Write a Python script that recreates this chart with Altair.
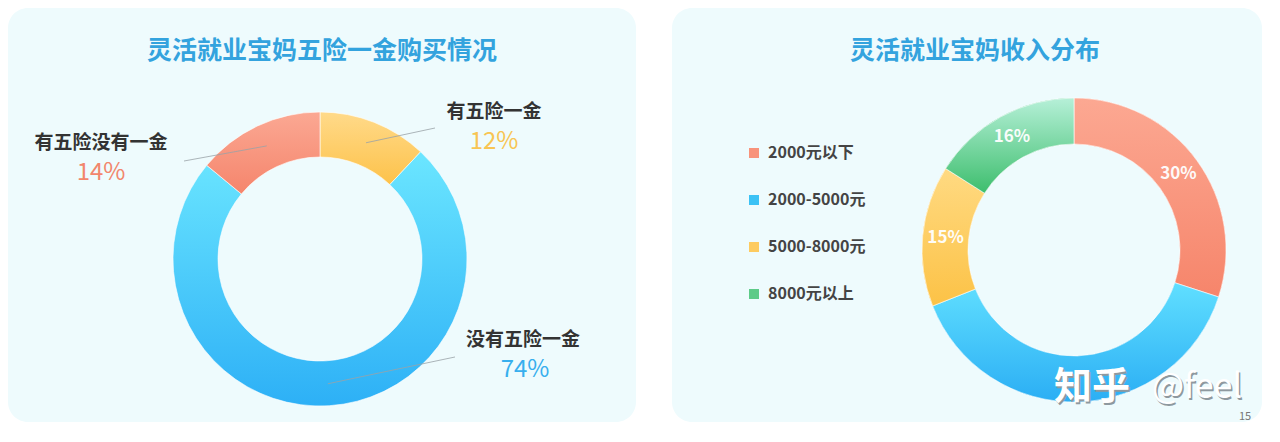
import math
import altair as alt
import pandas as pd

# ---------------- data ----------------
title_left = "灵活就业宝妈五险一金购买情况"
cats_left = ["有五险一金", "没有五险一金", "有五险没有一金"]
vals_left = [12, 74, 14]

title_right = "灵活就业宝妈收入分布"
cats_right = ["2000元以下", "2000-5000元", "5000-8000元", "8000元以上"]
vals_right = [30, 39, 15, 16]
# the 2000-5000元 label is hidden under the watermark in the reference
labelled_right = ["2000元以下", "5000-8000元", "8000元以上"]

watermark_parts = ["知乎", "@feel"]
page_number = ["15"]

# ---------------- styles / layout ----------------
FONT = "Noto Sans CJK SC"
PANEL_BG = "#EEFBFD"
TITLE_COLOR = "#33A3DE"

LW, LH = 628, 414
RW, RH = 590, 414

theta_scale = alt.Scale(domain=[0, 100], range=[0, 2 * math.pi])


def grad(c1, c2):
    return alt.Gradient(
        gradient="linear",
        stops=[alt.GradientStop(color=c1, offset=0), alt.GradientStop(color=c2, offset=1)],
        x1=0, x2=0, y1=0, y2=1,
    )


def base_chart(cats, vals):
    df = pd.DataFrame({"cat": cats, "value": vals, "order": list(range(len(cats)))})
    return (
        alt.Chart(df)
        .transform_window(cum="sum(value)", sort=[alt.SortField("order")], frame=[None, 0])
        .transform_calculate(
            start="datum.cum - datum.value",
            mid="datum.cum - datum.value / 2",
            pct="datum.value + '%'",
        )
    )


def title_layer(text, x, y):
    return (
        alt.Chart(pd.DataFrame({"t": [text]}))
        .mark_text(font=FONT, fontSize=25, fontWeight="bold", color=TITLE_COLOR, align="center", baseline="middle")
        .encode(text="t:N", x=alt.value(x), y=alt.value(y))
    )


# ---------------- left panel ----------------
LCX, LCY, LRO, LRI = 312, 251, 147, 102
bl = base_chart(cats_left, vals_left)

left_grads = {
    "有五险一金": grad("#FFDA8A", "#FDC24A"),
    "没有五险一金": grad("#6BE6FF", "#2DB0F6"),
    "有五险没有一金": grad("#FBA893", "#F5856C"),
}
left_layers = [title_layer(title_left, 314, 43)]
for c in cats_left:
    left_layers.append(
        bl.transform_filter(alt.datum.cat == c)
        .mark_arc(outerRadius=LRO, innerRadius=LRI, color=left_grads[c], stroke="#ffffff", strokeWidth=1, strokeOpacity=0.6)
        .encode(
            theta=alt.Theta("start:Q", scale=theta_scale, stack=None),
            theta2="cum:Q",
            x=alt.value(LCX),
            y=alt.value(LCY),
        )
    )

# leader lines and labels (annotation layout)
left_annot = {
    "有五险一金": dict(end=(427, 120), name=(486, 104), pct=(486, 134), color="#F8C553"),
    "有五险没有一金": dict(end=(176, 153), name=(93, 135), pct=(93, 165), color="#F2866C"),
    "没有五险一金": dict(end=(447, 349), name=(515, 332), pct=(517, 362), color="#38AFEE"),
}
LEAD_R = 125
for c in cats_left:
    a = left_annot[c]
    sub = bl.transform_filter(alt.datum.cat == c).transform_calculate(
        sx=f"{LCX} + {LEAD_R} * sin(2 * PI * datum.mid / 100)",
        sy=f"{LCY} - {LEAD_R} * cos(2 * PI * datum.mid / 100)",
    )
    left_layers.append(
        sub.mark_rule(color="#9AA3A8", strokeWidth=1, opacity=0.8).encode(
            x=alt.X("sx:Q", scale=None),
            y=alt.Y("sy:Q", scale=None),
            x2=alt.value(a["end"][0]),
            y2=alt.value(a["end"][1]),
        )
    )
    left_layers.append(
        sub.mark_text(font=FONT, fontSize=19, fontWeight="bold", color="#333333", align="center", baseline="middle")
        .encode(text="cat:N", x=alt.value(a["name"][0]), y=alt.value(a["name"][1]))
    )
    left_layers.append(
        sub.mark_text(font=FONT, fontSize=24, fontWeight="normal", color=a["color"], align="center", baseline="middle")
        .encode(text="pct:N", x=alt.value(a["pct"][0]), y=alt.value(a["pct"][1]))
    )

left = alt.layer(*left_layers).properties(width=LW, height=LH)

# ---------------- right panel ----------------
RCX, RCY, RRO, RRI = 402, 242, 152, 106
br = base_chart(cats_right, vals_right)

legend_colors = ["#F8937B", "#3BC2F5", "#FDCB60", "#5DCB88"]
right_grads = {
    "2000元以下": grad("#FCA892", "#F6856B"),
    "2000-5000元": grad("#60DFFF", "#2BAEF4"),
    "5000-8000元": grad("#FFDA82", "#FCC246"),
    "8000元以上": grad("#B6F0D8", "#3DBE6D"),
}

right_layers = [title_layer(title_right, 303, 43)]
right_layers.append(
    br.mark_arc(outerRadius=RRO, innerRadius=RRI).encode(
        theta=alt.Theta("start:Q", scale=theta_scale, stack=None),
        theta2="cum:Q",
        x=alt.value(RCX),
        y=alt.value(RCY),
        color=alt.Color(
            "cat:N",
            scale=alt.Scale(domain=cats_right, range=legend_colors),
            sort=cats_right,
            legend=alt.Legend(
                title=None,
                orient="none",
                legendX=74,
                legendY=137,
                symbolType="square",
                symbolSize=100,
                symbolStrokeWidth=0,
                labelFont=FONT,
                labelFontSize=16,
                labelFontWeight="bold",
                labelColor="#444444",
                labelOffset=6,
                rowPadding=31,
            ),
        ),
    )
)
for c in cats_right:
    right_layers.append(
        br.transform_filter(alt.datum.cat == c)
        .mark_arc(outerRadius=RRO, innerRadius=RRI, color=right_grads[c], stroke="#ffffff", strokeWidth=1, strokeOpacity=0.6)
        .encode(
            theta=alt.Theta("start:Q", scale=theta_scale, stack=None),
            theta2="cum:Q",
            x=alt.value(RCX),
            y=alt.value(RCY),
        )
    )
right_layers.append(
    br.transform_filter(alt.FieldOneOfPredicate(field="cat", oneOf=labelled_right))
    .mark_text(font=FONT, fontSize=17, fontWeight="bold", color="#ffffff", opacity=0.95, align="center", baseline="middle")
    .encode(
        theta=alt.Theta("mid:Q", scale=theta_scale, stack=None),
        radius=alt.value(129),
        x=alt.value(RCX),
        y=alt.value(RCY),
        text="pct:N",
    )
)

# watermark (shadow + white)
wm_pos = [(420, 380, 38, "bold"), (525, 380, 34, "normal")]
for txt, (x, y, fs, fw) in zip(watermark_parts, wm_pos):
    wdf = pd.DataFrame({"t": [txt]})
    right_layers.append(
        alt.Chart(wdf).mark_text(font=FONT, fontSize=fs, fontWeight=fw, color="#8E999F", align="center", baseline="middle")
        .encode(text="t:N", x=alt.value(x + 1.5), y=alt.value(y + 1.5))
    )
    right_layers.append(
        alt.Chart(wdf).mark_text(font=FONT, fontSize=fs, fontWeight=fw, color="#ffffff", align="center", baseline="middle")
        .encode(text="t:N", x=alt.value(x), y=alt.value(y))
    )

right_layers.append(
    alt.Chart(pd.DataFrame({"t": page_number}))
    .mark_text(font=FONT, fontSize=11, color="#777777", align="center", baseline="middle")
    .encode(text="t:N", x=alt.value(573), y=alt.value(409))
)

right = alt.layer(*right_layers).properties(width=RW, height=RH)

chart = (
    alt.hconcat(left, right, spacing=36)
    .resolve_legend(color="independent")
    .properties(padding=0, background="#ffffff")
    .configure_view(fill=PANEL_BG, stroke=None, cornerRadius=20)
)

chart.save("out.html", embed_options={"renderer": "svg", "actions": False})
